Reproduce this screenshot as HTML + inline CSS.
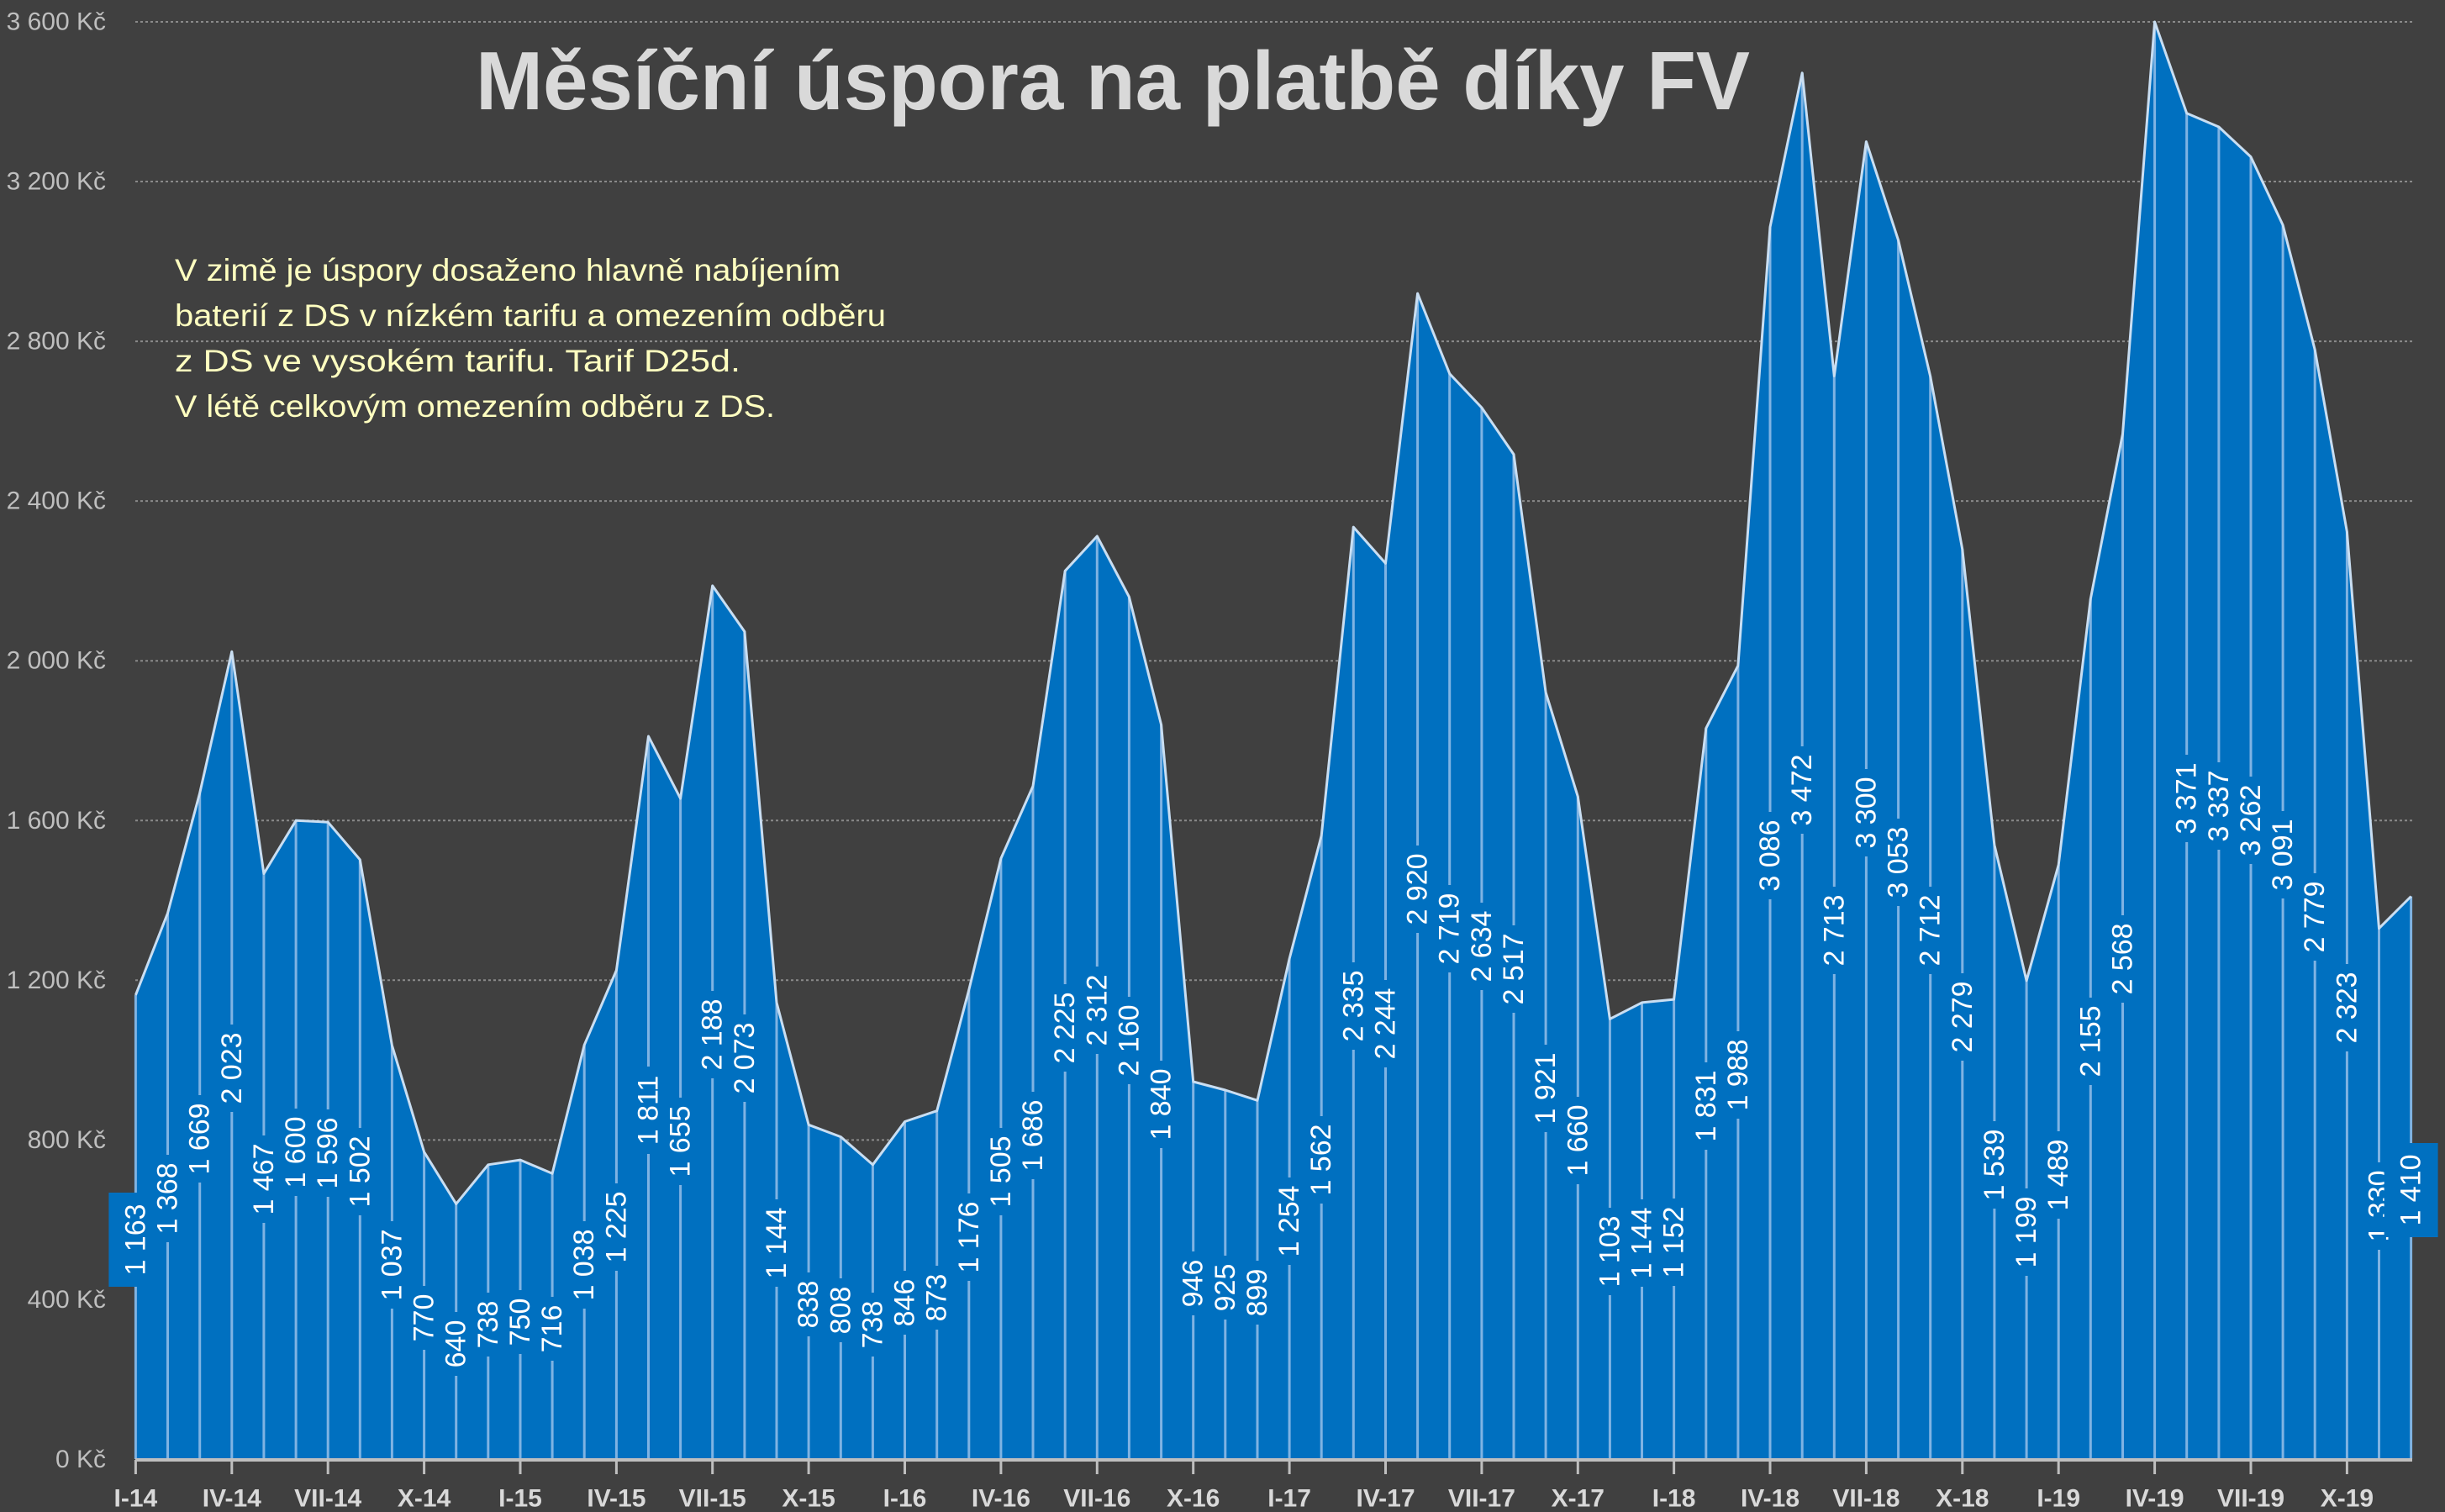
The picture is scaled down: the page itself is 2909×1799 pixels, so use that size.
<!DOCTYPE html>
<html><head><meta charset="utf-8"><style>
html,body{margin:0;padding:0;background:#404040;}
svg{display:block;}
</style></head><body>
<svg width="2909" height="1799" viewBox="0 0 2909 1799" xmlns="http://www.w3.org/2000/svg" font-family="'Liberation Sans', sans-serif">
<rect width="2909" height="1799" fill="#404040"/>
<g stroke="#8a8a8a" stroke-width="2" stroke-dasharray="3,3">
<line x1="161" x2="2870" y1="1546.4" y2="1546.4"/><line x1="161" x2="2870" y1="1356.4" y2="1356.4"/>
<line x1="161" x2="2870" y1="1166.3" y2="1166.3"/><line x1="161" x2="2870" y1="976.3" y2="976.3"/>
<line x1="161" x2="2870" y1="786.2" y2="786.2"/><line x1="161" x2="2870" y1="596.1" y2="596.1"/>
<line x1="161" x2="2870" y1="406.1" y2="406.1"/><line x1="161" x2="2870" y1="216" y2="216"/>
<line x1="161" x2="2870" y1="26" y2="26"/>
</g>
<g font-size="30" fill="#bfbfbf" text-anchor="end" dominant-baseline="central">
<text x="126" y="1736.5">0 Kč</text><text x="126" y="1546.4">400 Kč</text><text x="126" y="1356.4">800 Kč</text>
<text x="126" y="1166.3">1 200 Kč</text><text x="126" y="976.3">1 600 Kč</text><text x="126" y="786.2">2 000 Kč</text>
<text x="126" y="596.1">2 400 Kč</text><text x="126" y="406.1">2 800 Kč</text><text x="126" y="216">3 200 Kč</text>
<text x="126" y="26">3 600 Kč</text>
</g>
<path fill="#0070c0" d="M161.4,1736.5 L161.4,1183.9 L199.5,1086.5 L237.7,943.5 L275.8,775.3 L313.9,1039.5 L352.1,976.3 L390.2,978.2 L428.3,1022.8 L466.4,1243.8 L504.6,1370.6 L542.7,1432.4 L580.8,1385.8 L619.0,1380.1 L657.1,1396.3 L695.2,1243.3 L733.4,1154.5 L771.5,876.0 L809.6,950.1 L847.7,696.9 L885.9,751.5 L924.0,1192.9 L962.1,1338.3 L1000.3,1352.6 L1038.4,1385.8 L1076.5,1334.5 L1114.7,1321.7 L1152.8,1177.7 L1190.9,1021.4 L1229.0,935.4 L1267.2,679.3 L1305.3,638.0 L1343.4,710.2 L1381.6,862.2 L1419.7,1287.0 L1457.8,1297.0 L1496.0,1309.3 L1534.1,1140.7 L1572.2,994.3 L1610.3,627.1 L1648.5,670.3 L1686.6,349.1 L1724.7,444.6 L1762.9,485.0 L1801.0,540.6 L1839.1,823.8 L1877.3,947.8 L1915.4,1212.4 L1953.5,1192.9 L1991.6,1189.1 L2029.8,866.5 L2067.9,791.9 L2106.0,270.2 L2144.2,86.8 L2182.3,447.4 L2220.4,168.5 L2258.6,285.9 L2296.7,447.9 L2334.8,653.7 L2372.9,1005.3 L2411.1,1166.8 L2449.2,1029.0 L2487.3,712.6 L2525.5,516.3 L2563.6,26 L2601.7,134.8 L2639.9,151.0 L2678.0,186.6 L2716.1,267.8 L2754.2,416.1 L2792.4,632.8 L2830.5,1104.6 L2868.6,1066.5 L2868.6,1736.5 Z"/>
<path fill="none" stroke="#7fb3e3" stroke-width="3" d="M161.4,1183.9V1736 M199.5,1086.5V1736 M237.7,943.5V1736 M275.8,775.3V1736 M313.9,1039.5V1736 M352.1,976.3V1736 M390.2,978.2V1736 M428.3,1022.8V1736 M466.4,1243.8V1736 M504.6,1370.6V1736 M542.7,1432.4V1736 M580.8,1385.8V1736 M619.0,1380.1V1736 M657.1,1396.3V1736 M695.2,1243.3V1736 M733.4,1154.5V1736 M771.5,876.0V1736 M809.6,950.1V1736 M847.7,696.9V1736 M885.9,751.5V1736 M924.0,1192.9V1736 M962.1,1338.3V1736 M1000.3,1352.6V1736 M1038.4,1385.8V1736 M1076.5,1334.5V1736 M1114.7,1321.7V1736 M1152.8,1177.7V1736 M1190.9,1021.4V1736 M1229.0,935.4V1736 M1267.2,679.3V1736 M1305.3,638.0V1736 M1343.4,710.2V1736 M1381.6,862.2V1736 M1419.7,1287.0V1736 M1457.8,1297.0V1736 M1496.0,1309.3V1736 M1534.1,1140.7V1736 M1572.2,994.3V1736 M1610.3,627.1V1736 M1648.5,670.3V1736 M1686.6,349.1V1736 M1724.7,444.6V1736 M1762.9,485.0V1736 M1801.0,540.6V1736 M1839.1,823.8V1736 M1877.3,947.8V1736 M1915.4,1212.4V1736 M1953.5,1192.9V1736 M1991.6,1189.1V1736 M2029.8,866.5V1736 M2067.9,791.9V1736 M2106.0,270.2V1736 M2144.2,86.8V1736 M2182.3,447.4V1736 M2220.4,168.5V1736 M2258.6,285.9V1736 M2296.7,447.9V1736 M2334.8,653.7V1736 M2372.9,1005.3V1736 M2411.1,1166.8V1736 M2449.2,1029.0V1736 M2487.3,712.6V1736 M2525.5,516.3V1736 M2563.6,26V1736 M2601.7,134.8V1736 M2639.9,151.0V1736 M2678.0,186.6V1736 M2716.1,267.8V1736 M2754.2,416.1V1736 M2792.4,632.8V1736 M2830.5,1104.6V1736 M2868.6,1066.5V1736"/>
<polyline fill="none" stroke="#c9def2" stroke-width="3" stroke-linejoin="round" points="161.4,1183.9 199.5,1086.5 237.7,943.5 275.8,775.3 313.9,1039.5 352.1,976.3 390.2,978.2 428.3,1022.8 466.4,1243.8 504.6,1370.6 542.7,1432.4 580.8,1385.8 619.0,1380.1 657.1,1396.3 695.2,1243.3 733.4,1154.5 771.5,876.0 809.6,950.1 847.7,696.9 885.9,751.5 924.0,1192.9 962.1,1338.3 1000.3,1352.6 1038.4,1385.8 1076.5,1334.5 1114.7,1321.7 1152.8,1177.7 1190.9,1021.4 1229.0,935.4 1267.2,679.3 1305.3,638.0 1343.4,710.2 1381.6,862.2 1419.7,1287.0 1457.8,1297.0 1496.0,1309.3 1534.1,1140.7 1572.2,994.3 1610.3,627.1 1648.5,670.3 1686.6,349.1 1724.7,444.6 1762.9,485.0 1801.0,540.6 1839.1,823.8 1877.3,947.8 1915.4,1212.4 1953.5,1192.9 1991.6,1189.1 2029.8,866.5 2067.9,791.9 2106.0,270.2 2144.2,86.8 2182.3,447.4 2220.4,168.5 2258.6,285.9 2296.7,447.9 2334.8,653.7 2372.9,1005.3 2411.1,1166.8 2449.2,1029.0 2487.3,712.6 2525.5,516.3 2563.6,26 2601.7,134.8 2639.9,151.0 2678.0,186.6 2716.1,267.8 2754.2,416.1 2792.4,632.8 2830.5,1104.6 2868.6,1066.5"/>
<g font-size="34" fill="#ffffff" text-anchor="middle" dominant-baseline="central">
<g transform="translate(161.4,1475) rotate(-90)"><rect x="-56" y="-32" width="112" height="64" fill="#0070c0"/><text>1 163</text></g>
<g transform="translate(199.5,1426) rotate(-90)"><rect x="-52" y="-18" width="104" height="36" fill="#0070c0"/><text>1 368</text></g>
<g transform="translate(237.7,1355) rotate(-90)"><rect x="-52" y="-18" width="104" height="36" fill="#0070c0"/><text>1 669</text></g>
<g transform="translate(275.8,1271) rotate(-90)"><rect x="-52" y="-18" width="104" height="36" fill="#0070c0"/><text>2 023</text></g>
<g transform="translate(313.9,1403) rotate(-90)"><rect x="-52" y="-18" width="104" height="36" fill="#0070c0"/><text>1 467</text></g>
<g transform="translate(352.1,1371) rotate(-90)"><rect x="-52" y="-18" width="104" height="36" fill="#0070c0"/><text>1 600</text></g>
<g transform="translate(390.2,1372) rotate(-90)"><rect x="-52" y="-18" width="104" height="36" fill="#0070c0"/><text>1 596</text></g>
<g transform="translate(428.3,1394) rotate(-90)"><rect x="-52" y="-18" width="104" height="36" fill="#0070c0"/><text>1 502</text></g>
<g transform="translate(466.4,1505) rotate(-90)"><rect x="-52" y="-18" width="104" height="36" fill="#0070c0"/><text>1 037</text></g>
<g transform="translate(504.6,1568) rotate(-90)"><rect x="-38" y="-18" width="76" height="36" fill="#0070c0"/><text>770</text></g>
<g transform="translate(542.7,1599) rotate(-90)"><rect x="-38" y="-18" width="76" height="36" fill="#0070c0"/><text>640</text></g>
<g transform="translate(580.8,1576) rotate(-90)"><rect x="-38" y="-18" width="76" height="36" fill="#0070c0"/><text>738</text></g>
<g transform="translate(619.0,1573) rotate(-90)"><rect x="-38" y="-18" width="76" height="36" fill="#0070c0"/><text>750</text></g>
<g transform="translate(657.1,1581) rotate(-90)"><rect x="-38" y="-18" width="76" height="36" fill="#0070c0"/><text>716</text></g>
<g transform="translate(695.2,1505) rotate(-90)"><rect x="-52" y="-18" width="104" height="36" fill="#0070c0"/><text>1 038</text></g>
<g transform="translate(733.4,1460) rotate(-90)"><rect x="-52" y="-18" width="104" height="36" fill="#0070c0"/><text>1 225</text></g>
<g transform="translate(771.5,1321) rotate(-90)"><rect x="-52" y="-18" width="104" height="36" fill="#0070c0"/><text>1 811</text></g>
<g transform="translate(809.6,1358) rotate(-90)"><rect x="-52" y="-18" width="104" height="36" fill="#0070c0"/><text>1 655</text></g>
<g transform="translate(847.7,1231) rotate(-90)"><rect x="-52" y="-18" width="104" height="36" fill="#0070c0"/><text>2 188</text></g>
<g transform="translate(885.9,1259) rotate(-90)"><rect x="-52" y="-18" width="104" height="36" fill="#0070c0"/><text>2 073</text></g>
<g transform="translate(924.0,1479) rotate(-90)"><rect x="-52" y="-18" width="104" height="36" fill="#0070c0"/><text>1 144</text></g>
<g transform="translate(962.1,1552) rotate(-90)"><rect x="-38" y="-18" width="76" height="36" fill="#0070c0"/><text>838</text></g>
<g transform="translate(1000.3,1559) rotate(-90)"><rect x="-38" y="-18" width="76" height="36" fill="#0070c0"/><text>808</text></g>
<g transform="translate(1038.4,1576) rotate(-90)"><rect x="-38" y="-18" width="76" height="36" fill="#0070c0"/><text>738</text></g>
<g transform="translate(1076.5,1550) rotate(-90)"><rect x="-38" y="-18" width="76" height="36" fill="#0070c0"/><text>846</text></g>
<g transform="translate(1114.7,1544) rotate(-90)"><rect x="-38" y="-18" width="76" height="36" fill="#0070c0"/><text>873</text></g>
<g transform="translate(1152.8,1472) rotate(-90)"><rect x="-52" y="-18" width="104" height="36" fill="#0070c0"/><text>1 176</text></g>
<g transform="translate(1190.9,1394) rotate(-90)"><rect x="-52" y="-18" width="104" height="36" fill="#0070c0"/><text>1 505</text></g>
<g transform="translate(1229.0,1351) rotate(-90)"><rect x="-52" y="-18" width="104" height="36" fill="#0070c0"/><text>1 686</text></g>
<g transform="translate(1267.2,1223) rotate(-90)"><rect x="-52" y="-18" width="104" height="36" fill="#0070c0"/><text>2 225</text></g>
<g transform="translate(1305.3,1202) rotate(-90)"><rect x="-52" y="-18" width="104" height="36" fill="#0070c0"/><text>2 312</text></g>
<g transform="translate(1343.4,1238) rotate(-90)"><rect x="-52" y="-18" width="104" height="36" fill="#0070c0"/><text>2 160</text></g>
<g transform="translate(1381.6,1314) rotate(-90)"><rect x="-52" y="-18" width="104" height="36" fill="#0070c0"/><text>1 840</text></g>
<g transform="translate(1419.7,1527) rotate(-90)"><rect x="-38" y="-18" width="76" height="36" fill="#0070c0"/><text>946</text></g>
<g transform="translate(1457.8,1532) rotate(-90)"><rect x="-38" y="-18" width="76" height="36" fill="#0070c0"/><text>925</text></g>
<g transform="translate(1496.0,1538) rotate(-90)"><rect x="-38" y="-18" width="76" height="36" fill="#0070c0"/><text>899</text></g>
<g transform="translate(1534.1,1453) rotate(-90)"><rect x="-52" y="-18" width="104" height="36" fill="#0070c0"/><text>1 254</text></g>
<g transform="translate(1572.2,1380) rotate(-90)"><rect x="-52" y="-18" width="104" height="36" fill="#0070c0"/><text>1 562</text></g>
<g transform="translate(1610.3,1197) rotate(-90)"><rect x="-52" y="-18" width="104" height="36" fill="#0070c0"/><text>2 335</text></g>
<g transform="translate(1648.5,1218) rotate(-90)"><rect x="-52" y="-18" width="104" height="36" fill="#0070c0"/><text>2 244</text></g>
<g transform="translate(1686.6,1058) rotate(-90)"><rect x="-52" y="-18" width="104" height="36" fill="#0070c0"/><text>2 920</text></g>
<g transform="translate(1724.7,1105) rotate(-90)"><rect x="-52" y="-18" width="104" height="36" fill="#0070c0"/><text>2 719</text></g>
<g transform="translate(1762.9,1126) rotate(-90)"><rect x="-52" y="-18" width="104" height="36" fill="#0070c0"/><text>2 634</text></g>
<g transform="translate(1801.0,1153) rotate(-90)"><rect x="-52" y="-18" width="104" height="36" fill="#0070c0"/><text>2 517</text></g>
<g transform="translate(1839.1,1295) rotate(-90)"><rect x="-52" y="-18" width="104" height="36" fill="#0070c0"/><text>1 921</text></g>
<g transform="translate(1877.3,1357) rotate(-90)"><rect x="-52" y="-18" width="104" height="36" fill="#0070c0"/><text>1 660</text></g>
<g transform="translate(1915.4,1489) rotate(-90)"><rect x="-52" y="-18" width="104" height="36" fill="#0070c0"/><text>1 103</text></g>
<g transform="translate(1953.5,1479) rotate(-90)"><rect x="-52" y="-18" width="104" height="36" fill="#0070c0"/><text>1 144</text></g>
<g transform="translate(1991.6,1478) rotate(-90)"><rect x="-52" y="-18" width="104" height="36" fill="#0070c0"/><text>1 152</text></g>
<g transform="translate(2029.8,1316) rotate(-90)"><rect x="-52" y="-18" width="104" height="36" fill="#0070c0"/><text>1 831</text></g>
<g transform="translate(2067.9,1279) rotate(-90)"><rect x="-52" y="-18" width="104" height="36" fill="#0070c0"/><text>1 988</text></g>
<g transform="translate(2106.0,1018) rotate(-90)"><rect x="-52" y="-18" width="104" height="36" fill="#0070c0"/><text>3 086</text></g>
<g transform="translate(2144.2,940) rotate(-90)"><rect x="-52" y="-18" width="104" height="36" fill="#0070c0"/><text>3 472</text></g>
<g transform="translate(2182.3,1107) rotate(-90)"><rect x="-52" y="-18" width="104" height="36" fill="#0070c0"/><text>2 713</text></g>
<g transform="translate(2220.4,967) rotate(-90)"><rect x="-52" y="-18" width="104" height="36" fill="#0070c0"/><text>3 300</text></g>
<g transform="translate(2258.6,1026) rotate(-90)"><rect x="-52" y="-18" width="104" height="36" fill="#0070c0"/><text>3 053</text></g>
<g transform="translate(2296.7,1107) rotate(-90)"><rect x="-52" y="-18" width="104" height="36" fill="#0070c0"/><text>2 712</text></g>
<g transform="translate(2334.8,1210) rotate(-90)"><rect x="-52" y="-18" width="104" height="36" fill="#0070c0"/><text>2 279</text></g>
<g transform="translate(2372.9,1386) rotate(-90)"><rect x="-52" y="-18" width="104" height="36" fill="#0070c0"/><text>1 539</text></g>
<g transform="translate(2411.1,1466) rotate(-90)"><rect x="-52" y="-18" width="104" height="36" fill="#0070c0"/><text>1 199</text></g>
<g transform="translate(2449.2,1398) rotate(-90)"><rect x="-52" y="-18" width="104" height="36" fill="#0070c0"/><text>1 489</text></g>
<g transform="translate(2487.3,1239) rotate(-90)"><rect x="-52" y="-18" width="104" height="36" fill="#0070c0"/><text>2 155</text></g>
<g transform="translate(2525.5,1141) rotate(-90)"><rect x="-52" y="-18" width="104" height="36" fill="#0070c0"/><text>2 568</text></g>
<g transform="translate(2601.7,950) rotate(-90)"><rect x="-52" y="-18" width="104" height="36" fill="#0070c0"/><text>3 371</text></g>
<g transform="translate(2639.9,959) rotate(-90)"><rect x="-52" y="-18" width="104" height="36" fill="#0070c0"/><text>3 337</text></g>
<g transform="translate(2678.0,976) rotate(-90)"><rect x="-52" y="-18" width="104" height="36" fill="#0070c0"/><text>3 262</text></g>
<g transform="translate(2716.1,1017) rotate(-90)"><rect x="-52" y="-18" width="104" height="36" fill="#0070c0"/><text>3 091</text></g>
<g transform="translate(2754.2,1091) rotate(-90)"><rect x="-52" y="-18" width="104" height="36" fill="#0070c0"/><text>2 779</text></g>
<g transform="translate(2792.4,1199) rotate(-90)"><rect x="-52" y="-18" width="104" height="36" fill="#0070c0"/><text>2 323</text></g>
<g transform="translate(2830.5,1435) rotate(-90)"><rect x="-52" y="-18" width="104" height="36" fill="#0070c0"/><text>1 330</text></g>
<g transform="translate(2868.6,1416) rotate(-90)"><rect x="-56" y="-32" width="112" height="64" fill="#0070c0"/><text>1 410</text></g>
</g>
<line x1="161" x2="2870" y1="1737" y2="1737" stroke="#bfbfbf" stroke-width="4"/>
<path stroke="#bfbfbf" stroke-width="3" d="M161.4,1737V1754 M275.8,1737V1754 M390.2,1737V1754 M504.6,1737V1754 M619.0,1737V1754 M733.4,1737V1754 M847.7,1737V1754 M962.1,1737V1754 M1076.5,1737V1754 M1190.9,1737V1754 M1305.3,1737V1754 M1419.7,1737V1754 M1534.1,1737V1754 M1648.5,1737V1754 M1762.9,1737V1754 M1877.3,1737V1754 M1991.6,1737V1754 M2106.0,1737V1754 M2220.4,1737V1754 M2334.8,1737V1754 M2449.2,1737V1754 M2563.6,1737V1754 M2678.0,1737V1754 M2792.4,1737V1754"/>
<g font-size="30" font-weight="bold" fill="#d9d9d9" text-anchor="middle" dominant-baseline="central">
<text x="161.4" y="1783">I-14</text><text x="275.8" y="1783">IV-14</text><text x="390.2" y="1783">VII-14</text><text x="504.6" y="1783">X-14</text>
<text x="619.0" y="1783">I-15</text><text x="733.4" y="1783">IV-15</text><text x="847.7" y="1783">VII-15</text><text x="962.1" y="1783">X-15</text>
<text x="1076.5" y="1783">I-16</text><text x="1190.9" y="1783">IV-16</text><text x="1305.3" y="1783">VII-16</text><text x="1419.7" y="1783">X-16</text>
<text x="1534.1" y="1783">I-17</text><text x="1648.5" y="1783">IV-17</text><text x="1762.9" y="1783">VII-17</text><text x="1877.3" y="1783">X-17</text>
<text x="1991.6" y="1783">I-18</text><text x="2106.0" y="1783">IV-18</text><text x="2220.4" y="1783">VII-18</text><text x="2334.8" y="1783">X-18</text>
<text x="2449.2" y="1783">I-19</text><text x="2563.6" y="1783">IV-19</text><text x="2678.0" y="1783">VII-19</text><text x="2792.4" y="1783">X-19</text>
</g>
<text x="566" y="130" font-size="98" font-weight="bold" fill="#d9d9d9" textLength="1516" lengthAdjust="spacingAndGlyphs">Měsíční úspora na platbě díky FV</text>
<g font-size="37" fill="#ffffc0">
<text x="208" y="334" textLength="792" lengthAdjust="spacingAndGlyphs">V zimě je úspory dosaženo hlavně nabíjením</text>
<text x="208" y="388" textLength="846" lengthAdjust="spacingAndGlyphs">baterií z DS v nízkém tarifu a omezením odběru</text>
<text x="208" y="442" textLength="673" lengthAdjust="spacingAndGlyphs">z DS ve vysokém tarifu. Tarif D25d.</text>
<text x="208" y="496" textLength="714" lengthAdjust="spacingAndGlyphs">V létě celkovým omezením odběru z DS.</text>
</g>
</svg>
</body></html>
